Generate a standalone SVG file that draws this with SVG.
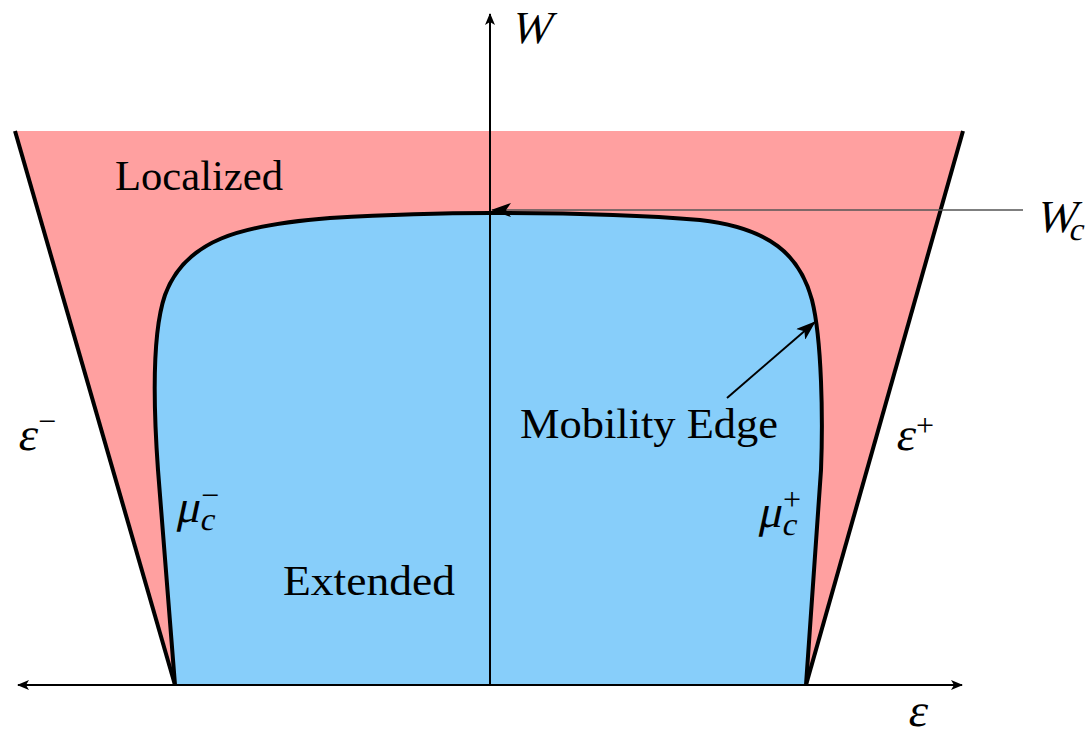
<svg xmlns="http://www.w3.org/2000/svg" width="1092" height="735" viewBox="0 0 1092 735">
<style>
.t{font-family:"Liberation Serif","DejaVu Serif",serif;font-size:42px;fill:#000}
.m{font-size:46px}
.big{font-size:46px}
.sub{font-size:32px}
.ax{stroke:#000;stroke-width:2;fill:none}
.thick{stroke:#000;stroke-width:4;fill:none}
</style>
<defs>
<marker id="ah" markerWidth="12" markerHeight="10" refX="11" refY="5" orient="auto" markerUnits="userSpaceOnUse">
<path d="M0,0 L12,5 L0,10 L3,5 Z" fill="#000"/>
</marker>
<marker id="ah2" markerWidth="20" markerHeight="14" refX="19" refY="7" orient="auto" markerUnits="userSpaceOnUse">
<path d="M0,0 L20,7 L0,14 L5,7 Z" fill="#000"/>
</marker>
</defs>
<g id="localized">
<path d="M15,131 L963,131 L806,685 L175,685 Z" fill="#FFA0A0"/>
<path d="M15,131 L175,685" class="thick"/>
<path d="M963,131 L806,685" class="thick"/>
</g>
<g id="extended">
<path d="M175,685 L158,470 C153,400 153,330 165,295 C185,240 240,225 330,218 C400,214 460,213 490,213 C560,213 640,215 700,220 C770,228 800,255 812,300 C822,340 823,420 821,470 L806,685 Z" fill="#87CEFA"/>
<path d="M175,685 L158,470 C153,400 153,330 165,295 C185,240 240,225 330,218 C400,214 460,213 490,213 C560,213 640,215 700,220 C770,228 800,255 812,300 C822,340 823,420 821,470 L806,685" fill="none" stroke="#000" stroke-width="4" stroke-linejoin="round"/>
</g>
<g id="connectors">
<path d="M490,685 L490,14" class="ax" marker-end="url(#ah)"/>
<path d="M490,685 L962,685" class="ax" marker-end="url(#ah)"/>
<path d="M490,685 L18,685" class="ax" marker-end="url(#ah)"/>
<path d="M1023,210 L492,210" stroke="#555" stroke-width="1.5" fill="none" marker-end="url(#ah2)"/>
<path d="M727,398 L815,322" stroke="#000" stroke-width="2" fill="none" marker-end="url(#ah2)"/>
</g>
<g id="labels">
<g transform="translate(510,43) skewX(-14)"><text class="t big" x="0" y="0" textLength="40" lengthAdjust="spacingAndGlyphs">W</text></g>
<g transform="translate(1035,232) skewX(-14)"><text class="t big" x="0" y="0" textLength="40" lengthAdjust="spacingAndGlyphs">W</text><text class="t sub" x="35" y="8">c</text></g>
<text class="t" x="115" y="190" textLength="168" lengthAdjust="spacingAndGlyphs">Localized</text>
<text class="t" x="520" y="438" textLength="258" lengthAdjust="spacingAndGlyphs">Mobility Edge</text>
<text class="t" x="283" y="595" textLength="172" lengthAdjust="spacingAndGlyphs">Extended</text>
<g transform="translate(17,450) skewX(-10)"><text class="t m" x="0" y="0">ε</text></g><text class="t sub" x="38" y="432">−</text>
<g transform="translate(895,450) skewX(-10)"><text class="t m" x="0" y="0">ε</text></g><text class="t sub" x="916" y="436">+</text>
<g transform="translate(907,726) skewX(-10)"><text class="t m" x="0" y="0">ε</text></g>
<g transform="translate(175,522) skewX(-12)"><text class="t m" x="0" y="0">μ</text><text class="t sub" x="26" y="8">c</text></g><text class="t sub" x="201" y="506">−</text>
<g transform="translate(757,527) skewX(-12)"><text class="t m" x="0" y="0">μ</text><text class="t sub" x="26" y="8">c</text></g><text class="t sub" x="783" y="510">+</text>
</g>
</svg>
